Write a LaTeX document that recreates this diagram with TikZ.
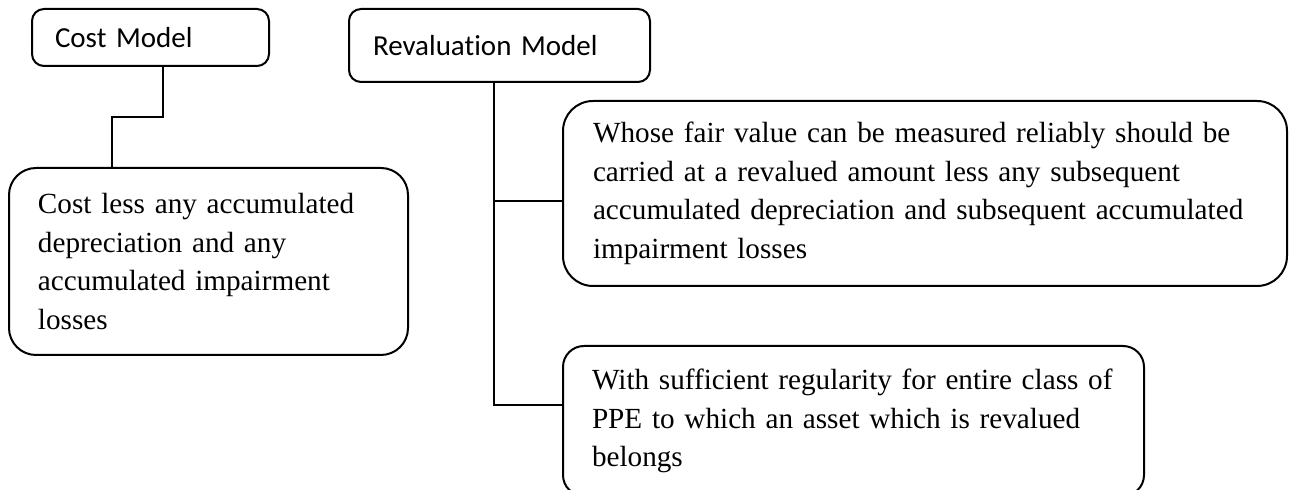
\documentclass[tikz,border=0pt]{standalone}
\usepackage{fontspec}
\setmainfont{Liberation Serif}
\newfontfamily\calibri[Ligatures=NoCommon]{Carlito}
\usepackage{tikz}

\begin{document}
\begin{tikzpicture}[x=0.5pt,y=-0.5pt,line width=1pt]
        \tikzstyle{model} = [draw, rounded corners=6pt, align=left, font=\calibri\fontsize{14.5pt}{18pt}\selectfont]
        \tikzstyle{note} = [draw, align=left, font=\fontsize{14.6pt}{19.3pt}\selectfont]

        \useasboundingbox (0,0) rectangle (1290,490);

        % Modelos
        \node[model, minimum width=118.5pt, minimum height=28.5pt, text width=95.5pt, inner xsep=11.5pt](model1) at (150.5,37.5) {Cost Model};
        \node[model, minimum width=150.5pt, minimum height=36.5pt, text width=126.5pt, inner xsep=12pt](model2) at (499.5,45.5) {Revaluation Model};

        % Notas
        \node[note, rounded corners=13.5pt, minimum width=199.5pt, minimum height=93.5pt, text width=170.5pt, inner xsep=14.5pt](note1) at (208.5,261.5) {Cost less any accumulated\\depreciation and any\\accumulated impairment\\losses};
        \node[note, rounded corners=15pt, minimum width=362pt, minimum height=92.5pt, text width=332pt, inner xsep=15pt](note2) at (925,193.5) {Whose fair value can be measured reliably should be\\carried at a revalued amount less any subsequent\\accumulated depreciation and subsequent accumulated\\impairment losses};
        \node[note, rounded corners=10.5pt, minimum width=290.5pt, minimum height=75pt, text width=261.5pt, inner xsep=14.5pt](note3) at (853.5,421) {With sufficient regularity for entire class of\\PPE to which an asset which is revalued\\belongs};

        % Enlaces
        \coordinate (bend1) at (163,117);
        \coordinate (bend2) at (112,117);
        \draw (model1.south -| bend1) -- (bend1) -- (bend2) -- (note1.north -| bend2);

        \coordinate (branch1) at (494,201);
        \coordinate (branch2) at (494,405);
        \draw (model2.south -| branch1) -- (branch2) -- (note3.west |- branch2);
        \draw (branch1) -- (note2.west |- branch1);
    \end{tikzpicture}
\end{document}
